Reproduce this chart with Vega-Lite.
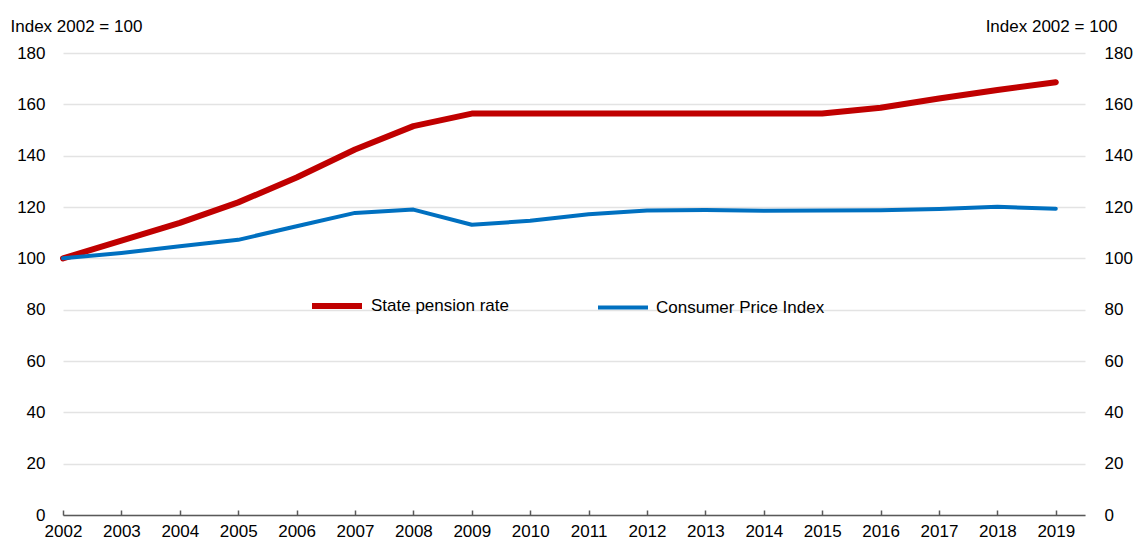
{
  "$schema": "https://vega.github.io/schema/vega-lite/v6.json",
  "autosize": "none",
  "padding": {"left": 63, "top": 53, "right": 58, "bottom": 31},
  "width": 1022,
  "height": 462,
  "background": "white",
  "config": {
    "view": {"stroke": null},
    "font": "Liberation Sans",
    "axis": {"labelFont": "Liberation Sans", "labelFontSize": 17, "labelColor": "#000000", "titleFont": "Liberation Sans", "titleFontSize": 17, "titleFontWeight": "normal", "titleColor": "#000000"},
    "legend": {"labelFont": "Liberation Sans", "labelFontSize": 17, "labelColor": "#000000"}
  },
  "data": {
    "values": [
      {"year": 2002, "series": "State pension rate", "value": 100},
      {"year": 2003, "series": "State pension rate", "value": 106.9},
      {"year": 2004, "series": "State pension rate", "value": 113.8},
      {"year": 2005, "series": "State pension rate", "value": 121.8},
      {"year": 2006, "series": "State pension rate", "value": 131.5},
      {"year": 2007, "series": "State pension rate", "value": 142.4},
      {"year": 2008, "series": "State pension rate", "value": 151.5},
      {"year": 2009, "series": "State pension rate", "value": 156.4},
      {"year": 2010, "series": "State pension rate", "value": 156.4},
      {"year": 2011, "series": "State pension rate", "value": 156.4},
      {"year": 2012, "series": "State pension rate", "value": 156.4},
      {"year": 2013, "series": "State pension rate", "value": 156.4},
      {"year": 2014, "series": "State pension rate", "value": 156.4},
      {"year": 2015, "series": "State pension rate", "value": 156.4},
      {"year": 2016, "series": "State pension rate", "value": 158.7},
      {"year": 2017, "series": "State pension rate", "value": 162.3},
      {"year": 2018, "series": "State pension rate", "value": 165.6},
      {"year": 2019, "series": "State pension rate", "value": 168.6},
      {"year": 2002, "series": "Consumer Price Index", "value": 100},
      {"year": 2003, "series": "Consumer Price Index", "value": 102.1},
      {"year": 2004, "series": "Consumer Price Index", "value": 104.7},
      {"year": 2005, "series": "Consumer Price Index", "value": 107.2},
      {"year": 2006, "series": "Consumer Price Index", "value": 112.5},
      {"year": 2007, "series": "Consumer Price Index", "value": 117.7},
      {"year": 2008, "series": "Consumer Price Index", "value": 119.0},
      {"year": 2009, "series": "Consumer Price Index", "value": 113.1},
      {"year": 2010, "series": "Consumer Price Index", "value": 114.6},
      {"year": 2011, "series": "Consumer Price Index", "value": 117.2},
      {"year": 2012, "series": "Consumer Price Index", "value": 118.6},
      {"year": 2013, "series": "Consumer Price Index", "value": 118.8},
      {"year": 2014, "series": "Consumer Price Index", "value": 118.5},
      {"year": 2015, "series": "Consumer Price Index", "value": 118.6},
      {"year": 2016, "series": "Consumer Price Index", "value": 118.7},
      {"year": 2017, "series": "Consumer Price Index", "value": 119.2},
      {"year": 2018, "series": "Consumer Price Index", "value": 120.1},
      {"year": 2019, "series": "Consumer Price Index", "value": 119.3}
    ]
  },
  "encoding": {
    "x": {
      "field": "year", "type": "quantitative",
      "scale": {"domain": [2002, 2019.5], "nice": false, "zero": false},
      "axis": {
        "values": [2002,2003,2004,2005,2006,2007,2008,2009,2010,2011,2012,2013,2014,2015,2016,2017,2018,2019],
        "format": "d", "title": null, "grid": false, "labelFlush": false,
        "domainColor": "#595959", "domainWidth": 1.5, "tickColor": "#595959", "tickWidth": 1.5,
        "tickSize": -5, "labelPadding": 13, "labelOverlap": false, "zindex": 1
      }
    }
  },
  "layer": [
    {
      "mark": {"type": "line", "strokeCap": "round", "strokeJoin": "round"},
      "encoding": {
        "y": {
          "field": "value", "type": "quantitative",
          "scale": {"domain": [0, 180], "nice": false},
          "axis": {
            "values": [0,20,40,60,80,100,120,140,160,180],
            "title": "Index 2002 = 100", "titleAngle": 0, "titleAlign": "left", "titleBaseline": "alphabetic",
            "titleX": -53, "titleY": -22,
            "domain": false, "ticks": false, "labelPadding": 18,
            "grid": true, "gridColor": "#E3E3E3", "gridWidth": 1.5
          }
        },
        "color": {
          "field": "series", "type": "nominal",
          "scale": {"domain": ["State pension rate", "Consumer Price Index"], "range": ["#C00000", "#0070C0"]},
          "legend": {
            "title": null, "orient": "none", "direction": "horizontal",
            "legendX": 246, "legendY": 225, "padding": 0,
            "symbolType": "stroke", "symbolSize": 2500, "symbolStrokeWidth": 5,
            "labelOffset": 6, "columnPadding": 81, "labelLimit": 0
          }
        },
        "strokeWidth": {
          "field": "series", "type": "nominal",
          "scale": {"domain": ["State pension rate", "Consumer Price Index"], "range": [6, 4]},
          "legend": null
        }
      }
    },
    {
      "mark": {"type": "line", "strokeOpacity": 0},
      "encoding": {
        "y": {
          "field": "value", "type": "quantitative",
          "scale": {"domain": [0, 180], "nice": false},
          "axis": {
            "orient": "right",
            "values": [0,20,40,60,80,100,120,140,160,180],
            "title": "Index 2002 = 100", "titleAngle": 0, "titleAlign": "right", "titleBaseline": "alphabetic",
            "titleX": 32, "titleY": -22,
            "domain": false, "ticks": false, "labelPadding": 19, "grid": false
          }
        },
        "detail": {"field": "series"}
      }
    }
  ],
  "resolve": {"axis": {"y": "independent"}}
}
